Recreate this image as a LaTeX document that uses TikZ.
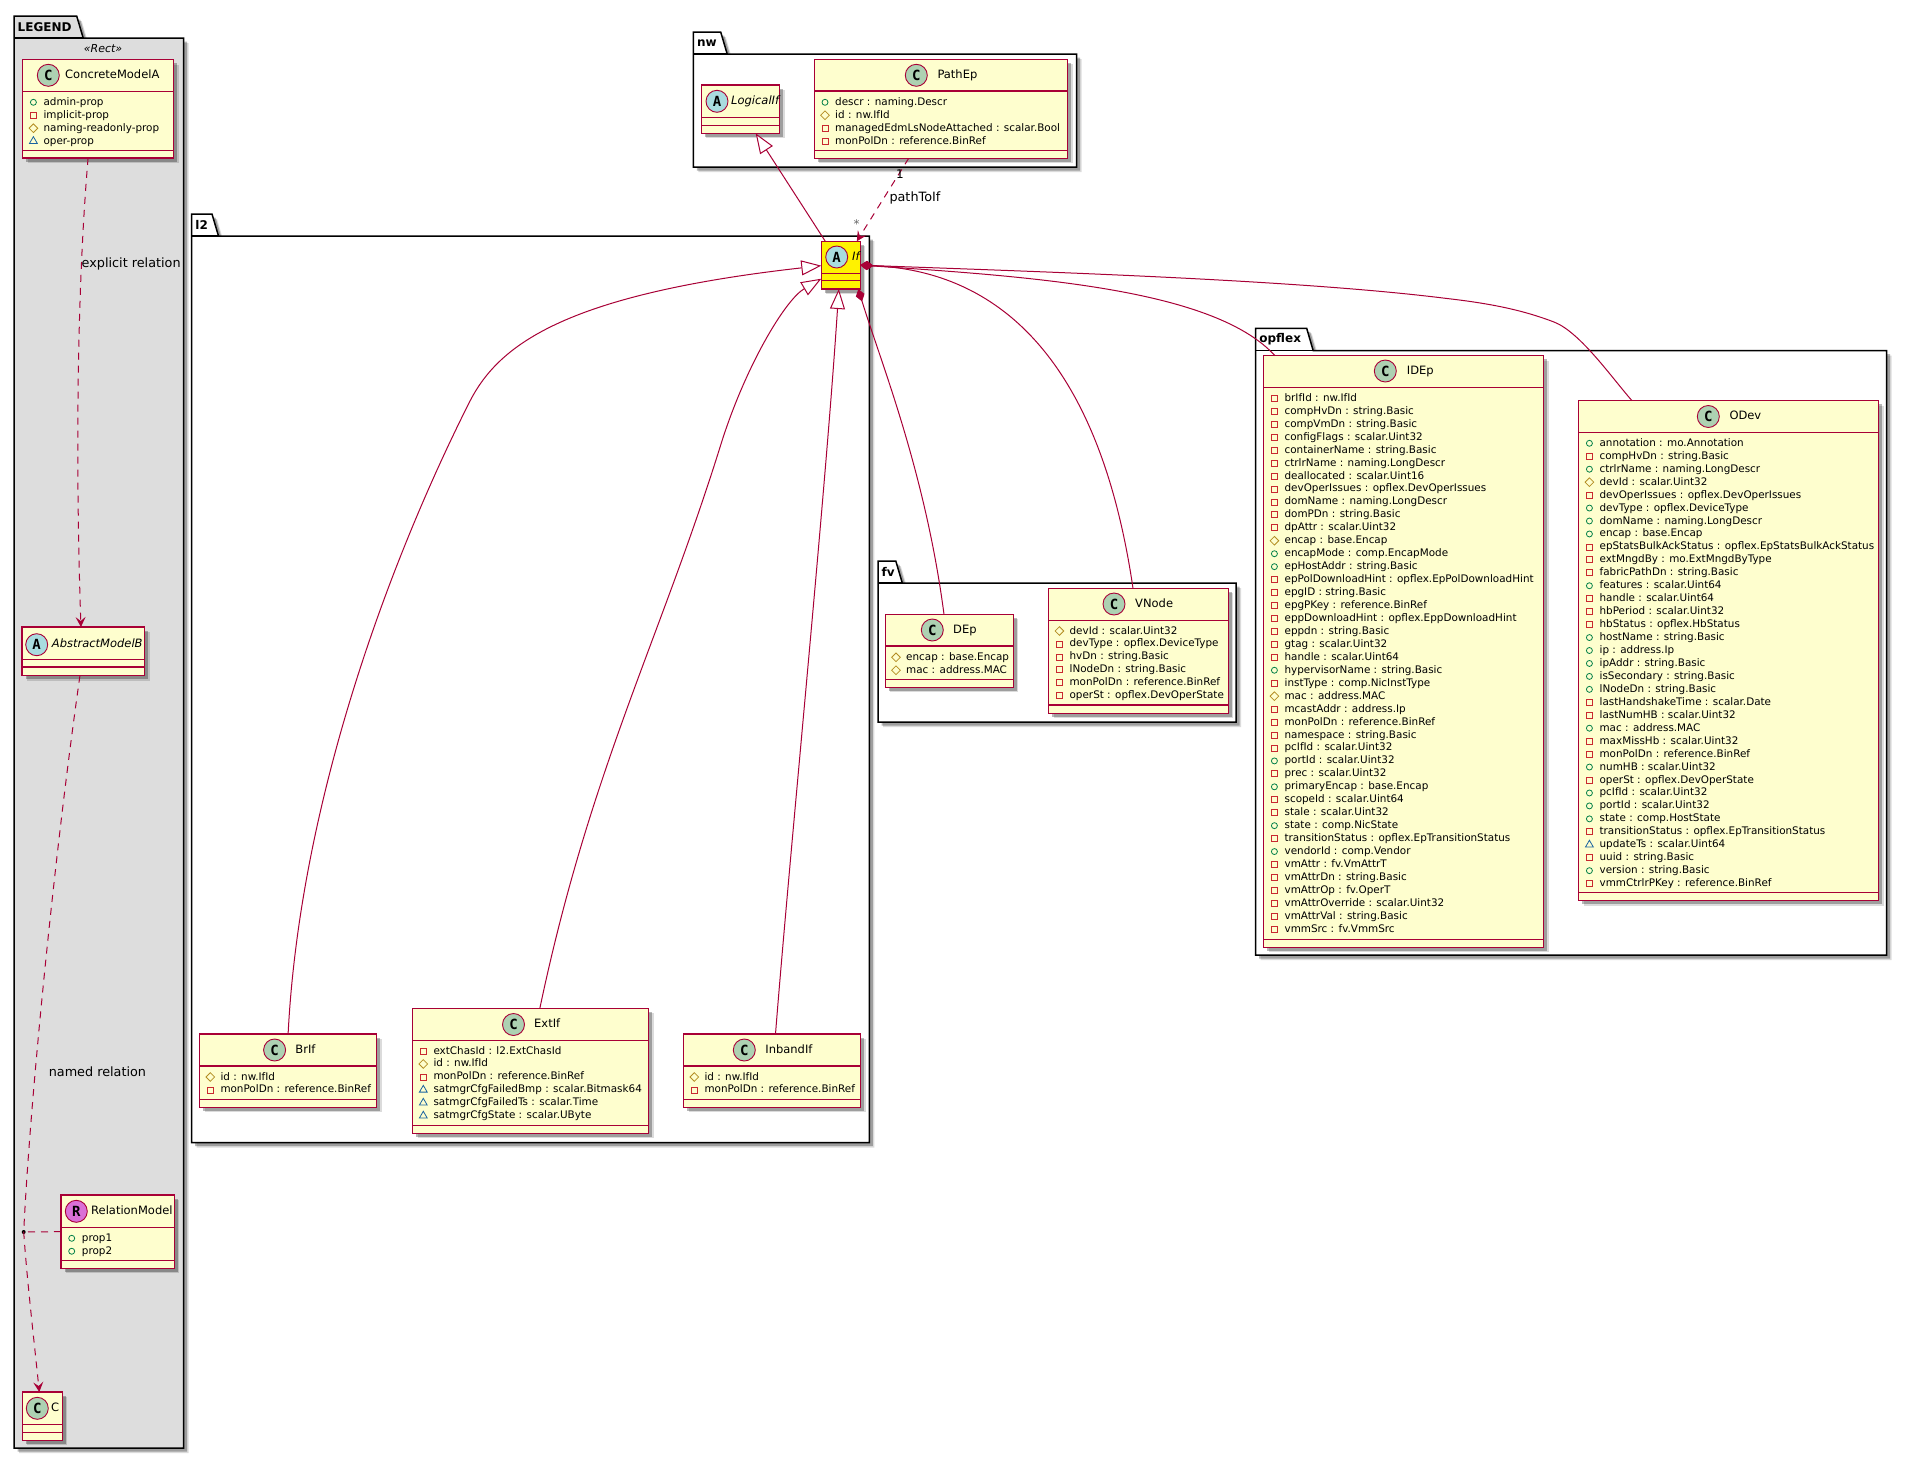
\documentclass[tikz,border=0pt]{standalone}
\usepackage{fontspec}
\setmainfont{DejaVu Sans}
\setmonofont{DejaVu Sans Mono}
\usepackage{xcolor}
\definecolor{umlline}{HTML}{A80036}
\definecolor{umlfill}{HTML}{FEFECE}
\definecolor{iconc}{HTML}{ADD1B2}
\definecolor{icona}{HTML}{A9DCDF}
\definecolor{iconr}{HTML}{DA70D6}
\definecolor{legendbg}{HTML}{DDDDDD}
\definecolor{vispub}{HTML}{038048}
\definecolor{vispri}{HTML}{C82930}
\definecolor{vispro}{HTML}{B38D22}
\definecolor{vispkg}{HTML}{1963A0}
\usetikzlibrary{shapes.geometric,arrows.meta,shadows}
\tikzset{
  soft_shadow/.style={
    drop shadow={shadow xshift=5pt,shadow yshift=-5pt,fill=black,opacity=.14},
    drop shadow={shadow xshift=3.5pt,shadow yshift=-3.5pt,fill=black,opacity=.28}},
  uml_class/.style={rectangle,draw=umlline,line width=1.1pt,
    inner sep=0pt,outer sep=0pt,soft_shadow},
  uml_sep/.style={draw=umlline,line width=1.1pt},
  uml_pkg/.style={draw=black,line width=1.5pt,soft_shadow},
  uml_pkg_line/.style={draw=black,line width=1.5pt},
  pkg_label/.style={inner sep=0pt,font=\fontsize{12}{14}\selectfont\bfseries},
  icon_c/.style={circle,draw=umlline,line width=.9pt,fill=iconc,
    minimum size=22pt,inner sep=0pt,font=\fontsize{14}{16}\selectfont\ttfamily\bfseries},
  icon_a/.style={icon_c,fill=icona},
  icon_r/.style={icon_c,fill=iconr},
  cls_title/.style={inner sep=0pt,text height=9pt,text depth=2.5pt,
    font=\fontsize{11.5}{14}\selectfont},
  row_text/.style={inner sep=0pt,anchor=west,text height=8pt,text depth=2pt,
    font=\fontsize{10.4}{12}\selectfont},
  vis_p/.style={circle,draw=vispub,line width=.8pt,inner sep=0pt,minimum size=6pt},
  vis_m/.style={rectangle,draw=vispri,line width=.8pt,inner sep=0pt,minimum size=6pt},
  vis_h/.style={diamond,draw=vispro,line width=.8pt,inner sep=0pt,minimum size=9pt},
  vis_t/.style={regular polygon,regular polygon sides=3,draw=vispkg,line width=.8pt,
    inner sep=0pt,minimum size=9pt},
  rel/.style={draw=umlline,line width=1pt},
  rel_dash/.style={rel,dash pattern=on 7pt off 6pt,
    -{Stealth[length=10pt,width=10pt,inset=4pt,fill=umlline]}},
  rel_plain/.style={rel,dash pattern=on 7pt off 6pt},
  rel_inh/.style={rel,-{Triangle[open,length=20pt,width=15pt,fill=white]}},
  rel_comp/.style={rel,{Diamond[length=13pt,width=9pt,fill=umlline]}-},
  rel_label/.style={inner sep=0pt,anchor=west,font=\fontsize{12.8}{15}\selectfont},
}
\newcommand{\umlpkg}[9][white]{%
  \draw[uml_pkg,fill=#1] (#3,#5) -- (#3,#4) -- (#8,#4) -- ({#8+6.5},#5) -- (#6,#5)
    -- (#6,#7) -- (#3,#7) -- cycle;
  \draw[uml_pkg_line] (#3,#5) -- ({#8+6.5},#5);
  \node[pkg_label,anchor=west] (#2_label) at ({#3+3.5},{(#4+#5)/2}) {#9};
}
\newcommand{\umlclass}[8][umlfill]{%
  \node[uml_class,fill=#1,minimum width={(#5-#3)*1pt},minimum height={(#6-#4)*1pt}]
    (#2) at ({(#3+#5)/2},{(#4+#6)/2}) {};
  \draw[uml_sep] (#3,#7) -- (#5,#7);
  \draw[uml_sep] (#3,#8) -- (#5,#8);
}
\newcommand{\umlhead}[7]{%
  \node[#2] (#1_icon) at (#4,#5) {#3};
  \node[cls_title,anchor=west] (#1_title) at (#6,#5) {#7};
}
\newcommand{\umlrows}[4]{%
  \foreach \vis/\txt [count=\i] in {#4} {
    \pgfmathsetmacro\rowy{#3+(\i-1)*12.95}
    \node[vis_\vis] (#1_v\i) at ({#2+10.7},\rowy) {};
    \node[row_text] (#1_t\i) at ({#2+20.7},\rowy) {\txt};
  }
}
\begin{document}
\begin{tikzpicture}[x=1pt,y=-1pt]
  \useasboundingbox (0,0) rectangle (1907,1459);
  \umlpkg[legendbg]{legend}{14}{16}{38}{183.5}{1448}{76.7}{LEGEND}
  \umlpkg{nw}{693.3}{32}{54}{1076.7}{167}{720.7}{nw}
  \umlpkg{ltwo}{191.7}{214}{236}{869.3}{1142.7}{212}{l2}
  \umlpkg{fv}{878}{561}{583}{1236}{722}{895.8}{fv}
  \umlpkg{opflex}{1255.7}{328.3}{350.7}{1886.7}{955}{1306.7}{opflex}

  \node[inner sep=0pt,font=\fontsize{11}{13}\selectfont\itshape] (legend_stereo) at (103,49) {«Rect»};

  \umlclass{ConcreteModelA}{22.7}{59.5}{173.5}{158}{91.3}{150.7}
  \umlhead{ConcreteModelA}{icon_c}{C}{48.3}{75.3}{65}{ConcreteModelA}
  \umlrows{ConcreteModelA}{22.7}{102.3}{p/admin-prop,m/implicit-prop,h/naming-readonly-prop,t/oper-prop}

  \umlclass{AbstractModelB}{22}{627}{144.7}{675.7}{659.3}{667}
  \umlhead{AbstractModelB}{icon_a}{A}{36.7}{644.7}{51.7}{\itshape AbstractModelB}

  \umlclass{RelationModel}{61}{1195}{174.3}{1268.3}{1227.3}{1260.7}
  \umlhead{RelationModel}{icon_r}{R}{76.3}{1211.3}{91}{RelationModel}
  \umlrows{RelationModel}{61}{1238.3}{p/prop1,p/prop2}

  \umlclass{classC}{22.3}{1392}{62.3}{1440.3}{1424.3}{1432.6}
  \umlhead{classC}{icon_c}{C}{37.3}{1408.3}{51}{C}

  \umlclass{LogicalIf}{701.3}{85}{779.7}{133.3}{117.3}{125.3}
  \umlhead{LogicalIf}{icon_a}{A}{717}{101.3}{731}{\itshape LogicalIf}

  \umlclass{PathEp}{814.3}{59.3}{1067.7}{158.3}{91}{150.3}
  \umlhead{PathEp}{icon_c}{C}{916.3}{75.3}{937.3}{PathEp}
  \umlrows{PathEp}{814.3}{102.3}{p/descr : naming.Descr,h/id : nw.IfId,
    m/managedEdmLsNodeAttached : scalar.Bool,m/monPolDn : reference.BinRef}

  \umlclass[yellow]{If}{821.3}{241.3}{860.3}{289}{273.3}{280.7}
  \umlhead{If}{icon_a}{A}{836.7}{257}{852}{\itshape If}

  \umlclass{BrIf}{199.6}{1034}{376.6}{1107.3}{1066}{1099.3}
  \umlhead{BrIf}{icon_c}{C}{274.6}{1050}{295.2}{BrIf}
  \umlrows{BrIf}{199.6}{1077}{h/id : nw.IfId,m/monPolDn : reference.BinRef}

  \umlclass{ExtIf}{412.6}{1008.3}{648.7}{1133.3}{1040.7}{1125.3}
  \umlhead{ExtIf}{icon_c}{C}{513.5}{1024.5}{534}{ExtIf}
  \umlrows{ExtIf}{412.6}{1051}{m/extChasId : l2.ExtChasId,h/id : nw.IfId,m/monPolDn : reference.BinRef,
    t/satmgrCfgFailedBmp : scalar.Bitmask64,t/satmgrCfgFailedTs : scalar.Time,t/satmgrCfgState : scalar.UByte}

  \umlclass{InbandIf}{683.6}{1034}{860.8}{1107.3}{1066}{1099.3}
  \umlhead{InbandIf}{icon_c}{C}{744.3}{1050}{765.2}{InbandIf}
  \umlrows{InbandIf}{683.6}{1077}{h/id : nw.IfId,m/monPolDn : reference.BinRef}

  \umlclass{DEp}{885.3}{614.3}{1013.3}{687.3}{646}{679.7}
  \umlhead{DEp}{icon_c}{C}{932.3}{630}{953}{DEp}
  \umlrows{DEp}{885.3}{657.3}{h/encap : base.Encap,h/mac : address.MAC}

  \umlclass{VNode}{1048.7}{588.3}{1228.3}{713.3}{620.3}{705}
  \umlhead{VNode}{icon_c}{C}{1114}{604}{1135}{VNode}
  \umlrows{VNode}{1048.7}{631}{h/devId : scalar.Uint32,m/devType : opflex.DeviceType,m/hvDn : string.Basic,
    m/lNodeDn : string.Basic,m/monPolDn : reference.BinRef,m/operSt : opflex.DevOperState}

  \umlclass{IDEp}{1263.7}{355.7}{1543.7}{947.3}{387.3}{939.3}
  \umlhead{IDEp}{icon_c}{C}{1385.3}{371}{1406.7}{IDEp}
  \umlrows{IDEp}{1263.7}{398.3}{m/brIfId : nw.IfId,m/compHvDn : string.Basic,m/compVmDn : string.Basic,
    m/configFlags : scalar.Uint32,m/containerName : string.Basic,m/ctrlrName : naming.LongDescr,
    m/deallocated : scalar.Uint16,m/devOperIssues : opflex.DevOperIssues,m/domName : naming.LongDescr,
    m/domPDn : string.Basic,m/dpAttr : scalar.Uint32,h/encap : base.Encap,p/encapMode : comp.EncapMode,
    p/epHostAddr : string.Basic,m/epPolDownloadHint : opflex.EpPolDownloadHint,m/epgID : string.Basic,
    m/epgPKey : reference.BinRef,m/eppDownloadHint : opflex.EppDownloadHint,m/eppdn : string.Basic,
    m/gtag : scalar.Uint32,m/handle : scalar.Uint64,p/hypervisorName : string.Basic,
    m/instType : comp.NicInstType,h/mac : address.MAC,m/mcastAddr : address.Ip,
    m/monPolDn : reference.BinRef,m/namespace : string.Basic,m/pcIfId : scalar.Uint32,
    p/portId : scalar.Uint32,m/prec : scalar.Uint32,p/primaryEncap : base.Encap,
    m/scopeId : scalar.Uint64,m/stale : scalar.Uint32,p/state : comp.NicState,
    m/transitionStatus : opflex.EpTransitionStatus,p/vendorId : comp.Vendor,m/vmAttr : fv.VmAttrT,
    m/vmAttrDn : string.Basic,m/vmAttrOp : fv.OperT,m/vmAttrOverride : scalar.Uint32,
    m/vmAttrVal : string.Basic,m/vmmSrc : fv.VmmSrc}

  \umlclass{ODev}{1578.7}{400.7}{1878.7}{900.7}{432.7}{892.7}
  \umlhead{ODev}{icon_c}{C}{1708.3}{416.5}{1729.3}{ODev}
  \umlrows{ODev}{1578.7}{443.3}{p/annotation : mo.Annotation,m/compHvDn : string.Basic,
    p/ctrlrName : naming.LongDescr,h/devId : scalar.Uint32,m/devOperIssues : opflex.DevOperIssues,
    p/devType : opflex.DeviceType,p/domName : naming.LongDescr,p/encap : base.Encap,
    m/epStatsBulkAckStatus : opflex.EpStatsBulkAckStatus,m/extMngdBy : mo.ExtMngdByType,
    m/fabricPathDn : string.Basic,p/features : scalar.Uint64,m/handle : scalar.Uint64,
    m/hbPeriod : scalar.Uint32,m/hbStatus : opflex.HbStatus,p/hostName : string.Basic,
    p/ip : address.Ip,p/ipAddr : string.Basic,p/isSecondary : string.Basic,p/lNodeDn : string.Basic,
    m/lastHandshakeTime : scalar.Date,m/lastNumHB : scalar.Uint32,p/mac : address.MAC,
    m/maxMissHb : scalar.Uint32,m/monPolDn : reference.BinRef,p/numHB : scalar.Uint32,
    m/operSt : opflex.DevOperState,p/pcIfId : scalar.Uint32,p/portId : scalar.Uint32,
    p/state : comp.HostState,m/transitionStatus : opflex.EpTransitionStatus,
    t/updateTs : scalar.Uint64,m/uuid : string.Basic,p/version : string.Basic,
    m/vmmCtrlrPKey : reference.BinRef}

  \node[circle,fill=black,inner sep=0pt,minimum size=4pt] (rel_point) at (23.7,1232) {};

  \draw[rel_dash] ([xshift=-10pt]ConcreteModelA.south) .. controls (76,300) and (76,480) .. ([xshift=-2.4pt]AbstractModelB.north);
  \node[rel_label] (explicit_label) at (81.5,264) {explicit relation};
  \draw[rel_plain] ([xshift=-3.4pt]AbstractModelB.south) .. controls (55,850) and (30,1100) .. (rel_point.center);
  \draw[rel_dash] (rel_point.center) .. controls (27,1280) and (34,1340) .. ([xshift=-3pt]classC.north);
  \draw[rel_plain] (RelationModel.west) -- (rel_point.center);
  \node[rel_label] (named_label) at (48.6,1071.5) {named relation};

  \draw[rel_inh] ([xshift=-15.5pt]If.north) -- ([xshift=15.2pt]LogicalIf.south);
  \draw[rel_dash] ([xshift=-32.3pt]PathEp.south) -- ([xshift=16pt]If.north);
  \node[rel_label] (pathtoif_label) at (889.3,198.3) {pathToIf};
  \node[inner sep=0pt,font=\fontsize{12}{14}\selectfont] (pathep_mult) at (900,174.3) {1};
  \node[inner sep=0pt,text=black!60,font=\fontsize{12}{14}\selectfont] (if_mult) at (856.7,224) {*};

  \draw[rel_inh] (BrIf.north) .. controls (300,800) and (390,560) .. (469,403)
    .. controls (497,347) and (560,295) .. ([yshift=-.5pt]If.west);
  \draw[rel_inh] ([xshift=9.2pt]ExtIf.north) .. controls (590,770) and (660,640) .. (720.7,445)
    .. controls (745,367) and (785,300) .. ([yshift=10.3pt]If.south west);
  \draw[rel_inh] ([xshift=3.3pt]InbandIf.north) .. controls (790,850) and (825,500) .. ([xshift=-2pt]If.south);

  \draw[rel_comp] ([shift={(-2pt,0pt)}]If.south east) .. controls (880,360) and (925,470) .. ([xshift=-5.3pt]DEp.north);
  \draw[rel_comp] (If.east) .. controls (975,270) and (1095,330) .. ([xshift=-5.5pt]VNode.north);
  \draw[rel_comp] (If.east) .. controls (1040,277) and (1215,290) .. ([xshift=-128.7pt]IDEp.north);
  \draw[rel_comp] (If.east) .. controls (1050,272) and (1300,280) .. (1447,298.5)
    .. controls (1495,304) and (1525,311) .. (1554,322)
    .. controls (1580,332) and (1612,378) .. ([xshift=-96.7pt]ODev.north);
\end{tikzpicture}
\end{document}
